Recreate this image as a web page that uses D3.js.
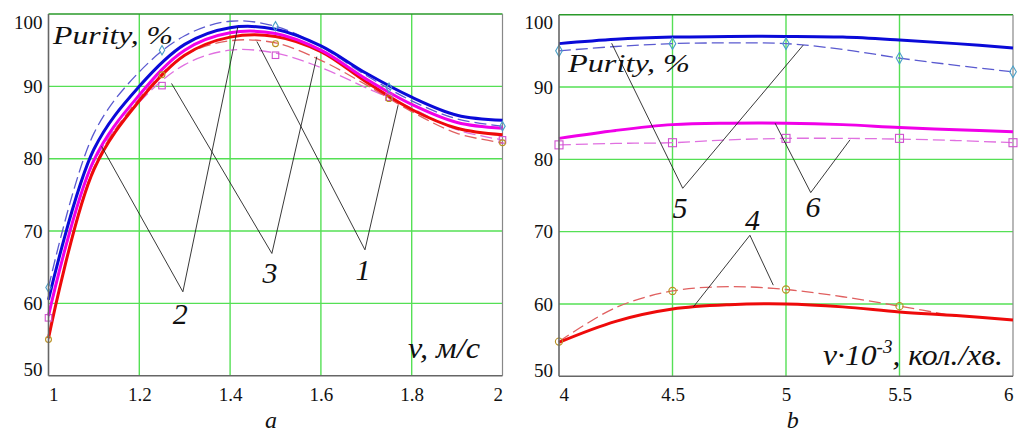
<!DOCTYPE html>
<html><head><meta charset="utf-8">
<script src="https://cdn.jsdelivr.net/npm/d3@7/dist/d3.min.js"></script>
<style>
html,body{margin:0;padding:0;background:#fff;}
svg text{font-family:"Liberation Serif","Tinos","Times New Roman","DejaVu Serif",serif !important;fill:#111;}
</style></head>
<body><svg id="c" width="1018" height="433"></svg>
<script>
// ---------- Panel a data (v, m/s) ----------
const xA = [1, 1.1, 1.2, 1.3, 1.4, 1.5, 1.6, 1.7, 1.8, 1.9, 2];
const blueA      = [60.5, 81.3, 90.0, 95.8, 98.1, 97.9, 95.6, 91.8, 88.5, 86.0, 85.3];
const magentaA   = [58.3, 79.8, 88.8, 95.0, 97.4, 97.3, 95.0, 91.0, 87.5, 85.0, 84.2];
const redA       = [55.2, 78.5, 88.0, 94.3, 96.8, 96.9, 94.8, 90.6, 86.8, 84.2, 83.3];
const blueDashA  = [62.2, 83.5, 92.0, 97.0, 99.0, 98.3, 95.5, 91.5, 88.0, 85.5, 84.5];
const magDashA   = [58.0, 79.5, 87.8, 93.0, 95.0, 94.6, 92.6, 89.8, 87.0, 84.0, 82.6];
const redDashA   = [55.0, 78.8, 88.3, 94.3, 96.3, 96.0, 93.6, 90.2, 86.5, 83.5, 82.2];
const markXA        = [1, 1.25, 1.5, 1.75, 2];
const blueMarkA     = [62.2, 95.0, 98.3, 89.8, 84.5];
const magMarkA      = [58.0, 90.1, 94.3, 88.5, 82.6];
const redMarkA      = [55.0, 91.6, 95.9, 88.3, 82.2];
const xTicksA = [1, 1.2, 1.4, 1.6, 1.8, 2];
const yTicks  = [50, 60, 70, 80, 90, 100];

// ---------- Panel b data (v*10^-3, rev/min) ----------
const xB = [4, 4.25, 4.5, 4.75, 5, 5.25, 5.5, 5.75, 6];
const blueB     = [96.0, 96.6, 96.9, 97.0, 97.0, 96.9, 96.5, 96.0, 95.4];
const blueDashB = [95.0, 95.6, 96.0, 96.1, 96.0, 95.2, 94.0, 93.0, 92.1];
const magB      = [82.9, 84.0, 84.8, 85.0, 85.0, 84.8, 84.4, 84.1, 83.8];
const magDashB  = [82.0, 82.2, 82.3, 82.7, 82.9, 82.9, 82.8, 82.6, 82.3];
const redB      = [54.7, 57.6, 59.3, 59.9, 60.0, 59.6, 58.9, 58.4, 57.8];
const redDashB  = [54.8, 59.5, 61.8, 62.4, 62.0, 61.0, 59.7, 58.3, null];
const markXB    = [4, 4.5, 5, 5.5, 6];
const blueMarkB = [95.0, 96.0, 96.0, 94.0, 92.1];
const magMarkB  = [82.0, 82.3, 82.9, 82.9, 82.3];
const redMarkB  = [54.8, 61.8, 62.0, 59.7, null];
const xTicksB = [4, 4.5, 5, 5.5, 6];

// annotation leaders (data units): [label, labelX, labelY, [[x,y],[x,y],[x,y]]]
const notesA = [
  ["2", 1.290, 57.2, [[1.117, 81.7], [1.296, 61.6], [1.417, 98.2]]],
  ["3", 1.488, 62.8, [[1.271, 90.4], [1.492, 66.9], [1.591, 94.1]]],
  ["1", 1.693, 63.2, [[1.459, 96.2], [1.697, 67.4], [1.770, 87.4]]]
];
const notesB = [
  ["5", 4.533, 71.9, [[4.232, 96.05], [4.545, 76.0], [5.076, 95.8]]],
  ["6", 5.119, 72.0, [[4.952, 85.0], [5.109, 75.4], [5.282, 82.7]]],
  ["4", 4.852, 70.2, [[4.592, 59.6], [4.841, 69.5], [4.944, 62.6]]]
];

const C = {
  blue: "#0a0ad8", mag: "#f000e8", red: "#ee0a0a",
  blueD: "#5a5ad0", magD: "#e070e0", redD: "#e06060",
  blueM: "#4aa0c8", magM: "#d050d0", redM: "#b89020",
  grid: "#55e055", top: "#2a9a2a", axis: "#666"
};
const SERIF = '"Liberation Serif","Tinos","Times New Roman","DejaVu Serif",serif';

const svg = d3.select("#c");
svg.append("rect").attr("width",1018).attr("height",433).attr("fill","#fff");

function panel(cfg){
  const x = d3.scaleLinear().domain(cfg.xDom).range(cfg.xR);
  const y = d3.scaleLinear().domain([50,100]).range(cfg.yR);
  const g = svg.append("g").attr("font-family", SERIF);
  // grid
  g.selectAll(".vg").data(cfg.xTicks.slice(1,-1)).join("line")
    .attr("x1",d=>x(d)).attr("x2",d=>x(d)).attr("y1",y(50)).attr("y2",y(100))
    .attr("stroke",C.grid).attr("stroke-width",1.4);
  g.selectAll(".hg").data(yTicks.slice(1,-1)).join("line")
    .attr("x1",x(cfg.xDom[0])).attr("x2",x(cfg.xDom[1])).attr("y1",d=>y(d)).attr("y2",d=>y(d))
    .attr("stroke",C.grid).attr("stroke-width",1.4);
  // border
  g.append("line").attr("x1",x(cfg.xDom[0])).attr("x2",x(cfg.xDom[1])).attr("y1",y(100)).attr("y2",y(100))
    .attr("stroke",C.top).attr("stroke-width",1.6);
  g.append("line").attr("x1",x(cfg.xDom[1])).attr("x2",x(cfg.xDom[1])).attr("y1",y(100)).attr("y2",y(50))
    .attr("stroke","#888").attr("stroke-width",1.2);

  const line = () => d3.line().defined(d=>d[1]!=null).x(d=>x(d[0])).y(d=>y(d[1])).curve(d3.curveCatmullRom.alpha(0.5));
  const zip = (xs, ys) => xs.map((v,i)=>[v, ys[i]]);
  cfg.series.forEach(s=>{
    g.append("path").datum(zip(cfg.xs, s.v)).attr("d", line()).attr("fill","none")
      .attr("stroke", s.c).attr("stroke-width", s.w)
      .attr("stroke-dasharray", s.dash || null).attr("stroke-linejoin","round");
  });
  // markers
  const ms = cfg.markSize;
  cfg.marks.forEach(m=>{
    const pts = zip(cfg.markX, m.v).filter(d=>d[1]!=null);
    if (m.type==="diamond"){
      g.selectAll(null).data(pts).join("path")
        .attr("d", d3.symbol(d3.symbolDiamond, ms*ms*0.6)())
        .attr("transform", d=>`translate(${x(d[0])},${y(d[1])})`)
        .attr("fill","none").attr("stroke",m.c).attr("stroke-width",1.1);
    } else if (m.type==="square"){
      g.selectAll(null).data(pts).join("rect")
        .attr("x", d=>x(d[0])-ms/2).attr("y", d=>y(d[1])-ms/2).attr("width",ms).attr("height",ms)
        .attr("fill","none").attr("stroke",m.c).attr("stroke-width",1.1);
    } else {
      g.selectAll(null).data(pts).join("circle")
        .attr("cx", d=>x(d[0])).attr("cy", d=>y(d[1])).attr("r",ms*0.45)
        .attr("fill","none").attr("stroke",m.c).attr("stroke-width",1.1);
    }
  });
  // axes lines
  g.append("line").attr("x1",x(cfg.xDom[0])).attr("x2",x(cfg.xDom[0])).attr("y1",y(100)).attr("y2",y(50))
    .attr("stroke",C.axis).attr("stroke-width",1.6);
  g.append("line").attr("x1",x(cfg.xDom[0])).attr("x2",x(cfg.xDom[1])).attr("y1",y(50)).attr("y2",y(50))
    .attr("stroke",C.axis).attr("stroke-width",1.6);

  // tick labels via axes
  const ya = g.append("g").attr("transform",`translate(${x(cfg.xDom[0])},0)`)
    .call(d3.axisLeft(y).tickValues(yTicks).tickSize(0).tickPadding(6));
  ya.attr("font-family", SERIF).attr("font-size", 19);
  ya.select(".domain").remove();
  ya.selectAll("text").attr("fill","#111")
    .attr("dy", d=> d===100 ? "0.75em" : d===50 ? "0.0em" : "0.33em");
  const xa = g.append("g").attr("transform",`translate(0,${y(50)})`)
    .call(d3.axisBottom(x).tickValues(cfg.xTicks).tickSize(0).tickFormat(d3.format("~g")));
  xa.attr("font-family", SERIF).attr("font-size", 19);
  xa.select(".domain").remove();
  xa.selectAll("text").attr("fill","#111")
    .attr("y",25).attr("dy",null)
    .attr("text-anchor",(d,i)=> i===0 ? "start" : i===cfg.xTicks.length-1 ? "end" : "middle");

  // annotations
  cfg.notes.forEach(n=>{
    g.append("path").datum(n[3]).attr("d", d3.line().x(d=>x(d[0])).y(d=>y(d[1])))
      .attr("fill","none").attr("stroke","#222").attr("stroke-width",0.9);
    g.append("text").attr("x", x(n[1])).attr("y", y(n[2])).attr("text-anchor","middle")
      .style("font-style","italic").style("font-size","30px").text(n[0]);
  });
  // panel letter
  g.append("text").attr("x", x(cfg.letterX)).attr("y", 427.5).attr("text-anchor","middle")
    .style("font-style","italic").style("font-size","24px").text(cfg.letter);
  return {x,y,g};
}

const pa = panel({
  xDom:[1,2], xR:[48.5,502.5], yR:[375.7,14], xTicks:xTicksA, xs:xA, markSize:6.5,
  series:[
    {v:blueDashA, c:C.blueD, w:1.3, dash:"12,5"},
    {v:magDashA, c:C.magD, w:1.3, dash:"12,5"},
    {v:redDashA, c:C.redD, w:1.3, dash:"12,5"},
    {v:redA, c:C.red, w:3},
    {v:magentaA, c:C.mag, w:3},
    {v:blueA, c:C.blue, w:3}
  ],
  markX:markXA,
  marks:[{v:blueMarkA,c:C.blueM,type:"diamond"},{v:magMarkA,c:C.magM,type:"square"},{v:redMarkA,c:C.redM,type:"circle"}],
  notes:notesA, letter:"a", letterX:1.49
});
pa.g.append("text").attr("x",53).attr("y",44).style("font-style","italic").style("font-size","26px")
  .attr("textLength",120).attr("lengthAdjust","spacingAndGlyphs").text("Purity, %");
pa.g.append("text").attr("x",408).attr("y",358).style("font-style","italic").style("font-size","29px")
  .attr("textLength",72).attr("lengthAdjust","spacingAndGlyphs").text("v, м/с");

const pb = panel({
  xDom:[4,6], xR:[559,1013], yR:[376.3,14.7], xTicks:xTicksB, xs:xB, markSize:8,
  series:[
    {v:blueDashB, c:C.blueD, w:1.3, dash:"12,5"},
    {v:magDashB, c:C.magD, w:1.3, dash:"12,5"},
    {v:redDashB, c:C.redD, w:1.3, dash:"12,5"},
    {v:redB, c:C.red, w:3},
    {v:magB, c:C.mag, w:3},
    {v:blueB, c:C.blue, w:3}
  ],
  markX:markXB,
  marks:[{v:blueMarkB,c:C.blueM,type:"diamond"},{v:magMarkB,c:C.magM,type:"square"},{v:redMarkB,c:C.redM,type:"circle"}],
  notes:notesB, letter:"b", letterX:5.03
});
pb.g.append("text").attr("x",568).attr("y",72).style("font-style","italic").style("font-size","26px")
  .attr("textLength",122).attr("lengthAdjust","spacingAndGlyphs").text("Purity, %");
const t = pb.g.append("text").attr("x",823).attr("y",365).style("font-style","italic").style("font-size","30px")
  .attr("textLength",180).attr("lengthAdjust","spacingAndGlyphs");
t.append("tspan").text("v·10");
t.append("tspan").attr("dy",-12).style("font-size","18px").text("-3");
t.append("tspan").attr("dy",12).text(", кол./хв.");
</script></body></html>
